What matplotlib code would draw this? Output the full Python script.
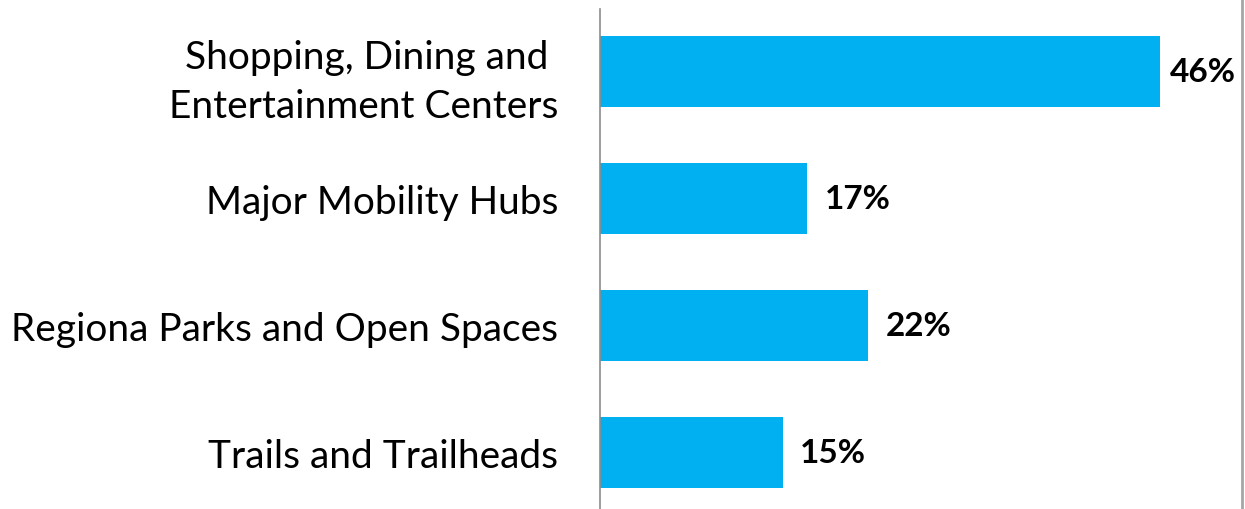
import matplotlib.pyplot as plt
from matplotlib.lines import Line2D

categories = ['Shopping, Dining and \nEntertainment Centers',
              'Major Mobility Hubs',
              'Regiona Parks and Open Spaces',
              'Trails and Trailheads']
values = [46, 17, 22, 15]
value_labels = ['46%', '17%', '22%', '15%']

W, H = 1245, 510
fig = plt.figure(figsize=(W / 100, H / 100), dpi=100)
ax = fig.add_axes([600 / W, 0, (1240 - 600) / W, 500 / H])

ypos = list(range(len(categories)))
ax.barh(ypos, values, height=0.56, color='#00B0F0')
ax.set_ylim(3.449, -0.496)
xmax = 52.6
ax.set_xlim(0, xmax)

# labels sit right of the bar, pulled in if they'd hit the chart border
for y, v, lab in zip(ypos, values, value_labels):
    x = min(v + 1.45, xmax - 5.75)
    ax.text(x, y, lab, va='center', ha='left', fontsize=24,
            fontweight='bold', family='Lato')

ax.set_yticks(ypos)
ax.set_yticklabels(categories, fontsize=28, family='Lato', linespacing=1.45)
ax.tick_params(axis='y', length=0, pad=30)
ax.set_xticks([])
for s in ['top', 'right', 'bottom']:
    ax.spines[s].set_visible(False)
ax.spines['left'].set_color('#8c8c8c')
ax.spines['left'].set_linewidth(1.2)

fig.add_artist(Line2D([1241.5 / W, 1241.5 / W], [0, 1], color='#a6a6a6', lw=2))

fig.savefig('out.png', dpi=100)
